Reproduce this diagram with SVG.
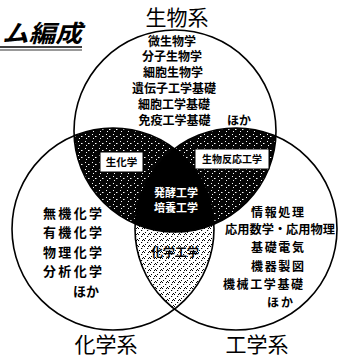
<svg xmlns="http://www.w3.org/2000/svg" width="338" height="361" viewBox="0 0 338 361">
<style>
  .jp { font-family: "Noto Sans CJK JP", "Noto Sans", sans-serif; fill: #000; }
  .sys { font-size: 21px; }
  .item { font-size: 12px; font-weight: bold; }
  .itemL { font-size: 13px; font-weight: bold; }
  .itemR { font-size: 12px; font-weight: bold; }
  .box { fill: #fff; stroke: #000; stroke-width: 1; }
  .ring { fill: none; stroke: #000; stroke-width: 1.6; }
  .wt { fill: #fff; }
</style>
<defs>
  <pattern id="dark" width="7" height="7" patternUnits="userSpaceOnUse">
    <rect width="7" height="7" fill="#050505"/>
    <rect x="1" y="1" width="1" height="1" fill="#fff"/>
    <rect x="4" y="3" width="1.5" height="1" fill="#fff"/>
    <rect x="2" y="5" width="1" height="1" fill="#fff"/>
  </pattern>
  <pattern id="light" width="6" height="6" patternUnits="userSpaceOnUse">
    <rect width="6" height="6" fill="#fff"/>
    <rect x="0" y="0" width="1" height="1" fill="#000"/>
    <rect x="3" y="2" width="1.2" height="1" fill="#000"/>
    <rect x="1" y="4" width="1" height="1" fill="#000"/>
    <rect x="5" y="5" width="1" height="1" fill="#000"/>
    <rect x="4" y="0" width="1" height="1" fill="#000"/>
  </pattern>
  <clipPath id="cTop"><circle cx="175" cy="131" r="101"/></clipPath>
  <clipPath id="cLeft"><circle cx="113" cy="229" r="101"/></clipPath>
  <clipPath id="cRight"><circle cx="236" cy="229" r="101"/></clipPath>
</defs>
<rect width="338" height="361" fill="#fff"/>

<!-- title fragment -->
<g id="title">
  <text class="jp" x="2" y="42" font-size="24" font-weight="bold" font-style="italic" textLength="80" lengthAdjust="spacingAndGlyphs">ム編成</text>
  <line x1="0" y1="47" x2="82" y2="47" stroke="#000" stroke-width="1.3"/>
  <line x1="0" y1="50" x2="82" y2="50" stroke="#000" stroke-width="0.8"/>
</g>

<!-- shaded overlaps -->
<g id="overlaps">
  <circle cx="113" cy="229" r="101" fill="url(#dark)" clip-path="url(#cTop)"/>
  <circle cx="236" cy="229" r="101" fill="url(#dark)" clip-path="url(#cTop)"/>
  <circle cx="236" cy="229" r="101" fill="url(#light)" clip-path="url(#cLeft)"/>
  <g clip-path="url(#cTop)">
    <circle cx="236" cy="229" r="101" fill="#000" clip-path="url(#cLeft)"/>
  </g>
</g>

<g id="connectors">
  <circle class="ring" cx="175" cy="131" r="101"/>
  <circle class="ring" cx="113" cy="229" r="101"/>
  <circle class="ring" cx="236" cy="229" r="101"/>
</g>

<g id="bio">
  <text class="jp sys" x="177" y="25" text-anchor="middle">生物系</text>
  <text class="jp item" x="172" y="45.5" text-anchor="middle">微生物学</text>
  <text class="jp item" x="172" y="61.4" text-anchor="middle">分子生物学</text>
  <text class="jp item" x="173" y="77.3" text-anchor="middle">細胞生物学</text>
  <text class="jp item" x="174" y="93.2" text-anchor="middle">遺伝子工学基礎</text>
  <text class="jp item" x="174" y="109.1" text-anchor="middle">細胞工学基礎</text>
  <text class="jp item" x="174.5" y="125" text-anchor="middle">免疫工学基礎</text>
  <text class="jp item" x="227" y="125">ほか</text>
</g>

<g id="chem">
  <text class="jp sys" x="106" y="352" text-anchor="middle">化学系</text>
  <text class="jp itemL" x="43" y="217.5" textLength="59" lengthAdjust="spacing">無機化学</text>
  <text class="jp itemL" x="43" y="237" textLength="59" lengthAdjust="spacing">有機化学</text>
  <text class="jp itemL" x="43" y="256.5" textLength="59" lengthAdjust="spacing">物理化学</text>
  <text class="jp itemL" x="43" y="276" textLength="59" lengthAdjust="spacing">分析化学</text>
  <text class="jp itemL" x="73" y="296">ほか</text>
</g>

<g id="eng">
  <text class="jp sys" x="257" y="352" text-anchor="middle">工学系</text>
  <text class="jp itemR" x="251" y="217" textLength="53" lengthAdjust="spacing">情報処理</text>
  <text class="jp itemR" x="225" y="234" textLength="110" lengthAdjust="spacingAndGlyphs">応用数学・応用物理</text>
  <text class="jp itemR" x="251" y="252" textLength="53" lengthAdjust="spacing">基礎電気</text>
  <text class="jp itemR" x="251" y="270.5" textLength="53" lengthAdjust="spacing">機器製図</text>
  <text class="jp itemR" x="223" y="288.5" textLength="80" lengthAdjust="spacing">機械工学基礎</text>
  <text class="jp itemR" x="267" y="307" textLength="26" lengthAdjust="spacing">ほか</text>
</g>

<g id="biochem">
  <rect class="box" x="100" y="152" width="43" height="20"/>
  <text class="jp" x="121.5" y="165.5" font-size="10.5" font-weight="bold" text-anchor="middle">生化学</text>
</g>

<g id="bioreaction">
  <rect class="box" x="195" y="149" width="74" height="20"/>
  <text class="jp" x="232" y="162.5" font-size="10" font-weight="bold" text-anchor="middle">生物反応工学</text>
</g>

<g id="center">
  <text class="jp wt" x="176" y="197" font-size="11" font-weight="bold" text-anchor="middle">発酵工学</text>
  <text class="jp wt" x="176" y="212" font-size="11" font-weight="bold" text-anchor="middle">培養工学</text>
</g>

<g id="chemeng">
  <text class="jp" x="175" y="256.5" font-size="12" font-weight="bold" text-anchor="middle">化学工学</text>
</g>
</svg>
